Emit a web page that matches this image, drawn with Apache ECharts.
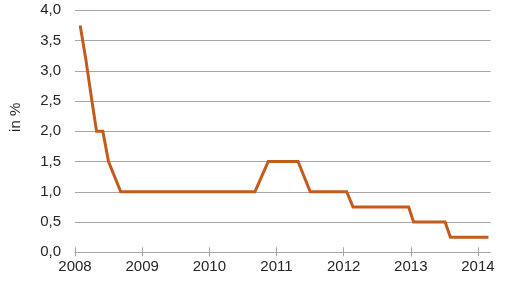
<!DOCTYPE html>
<html>
<head>
<meta charset="utf-8">
<script src="https://cdn.jsdelivr.net/npm/echarts@6/dist/echarts.min.js"></script>
<style>
html,body{margin:0;padding:0;background:#fff;}
#chart{width:512px;height:291px;}
</style>
</head>
<body>
<div id="chart"></div>
<script>
// Vertices of the rate line: dates as decimal years, rates in %
const dates = [2008.077, 2008.16, 2008.252, 2008.321, 2008.414, 2008.499, 2008.681,
  2010.679, 2010.877, 2011.321, 2011.503, 2012.046, 2012.139, 2012.968, 2013.042,
  2013.511, 2013.590, 2014.157];
const rates = [3.75, 3.2, 2.5, 2.0, 2.0, 1.5, 1.0,
  1.0, 1.5, 1.5, 1.0, 1.0, 0.75, 0.75, 0.5,
  0.5, 0.25, 0.25];
const yearTicks = [2008, 2009, 2010, 2011, 2012, 2013, 2014];
const yTicks = [0, 0.5, 1, 1.5, 2, 2.5, 3, 3.5, 4];
const yName = 'in %';

const textColor = '#262626';
const gridColor = '#a6a6a6';
const font = 'Liberation Sans, Arial, sans-serif';

const chart = echarts.init(document.getElementById('chart'), null, {renderer: 'canvas'});
chart.setOption({
  animation: false,
  grid: {left: 72.3, right: 21.3, top: 10.3, bottom: 38.7, containLabel: false},
  xAxis: [{
    type: 'value', min: 2008, max: 2014.19, interval: 1,
    axisLine: {show: true, lineStyle: {color: gridColor, width: 1}},
    axisTick: {show: true, length: 4, inside: false, customValues: yearTicks, lineStyle: {color: gridColor}},
    axisLabel: {customValues: yearTicks, formatter: v => String(Math.round(v)), color: textColor,
      fontSize: 15, fontFamily: font, margin: 7},
    splitLine: {show: false}
  }, {
    type: 'value', min: 2008, max: 2014.19, position: 'bottom',
    axisLine: {show: false},
    axisTick: {show: true, length: 5, inside: true, customValues: yearTicks, lineStyle: {color: gridColor}},
    axisLabel: {show: false},
    splitLine: {show: false}
  }],
  yAxis: {
    type: 'value', min: 0, max: 4, interval: 0.5,
    name: yName, nameLocation: 'middle', nameGap: 52, nameRotate: 90,
    nameTextStyle: {color: textColor, fontSize: 15, fontFamily: font, padding: [0, 0, 0, 28]},
    axisLine: {show: false}, axisTick: {show: false},
    axisLabel: {customValues: yTicks, formatter: v => v.toFixed(1).replace('.', ','), color: textColor,
      fontSize: 15, fontFamily: font, margin: 14},
    splitLine: {show: true, lineStyle: {color: gridColor, width: 1}}
  },
  series: [{
    type: 'line', xAxisIndex: 0,
    data: dates.map((d, i) => [d, rates[i]]),
    showSymbol: false, symbol: 'none',
    lineStyle: {color: '#c25b1e', width: 3, join: 'miter'},
    itemStyle: {color: '#c25b1e'}
  }]
});
</script>
</body>
</html>
